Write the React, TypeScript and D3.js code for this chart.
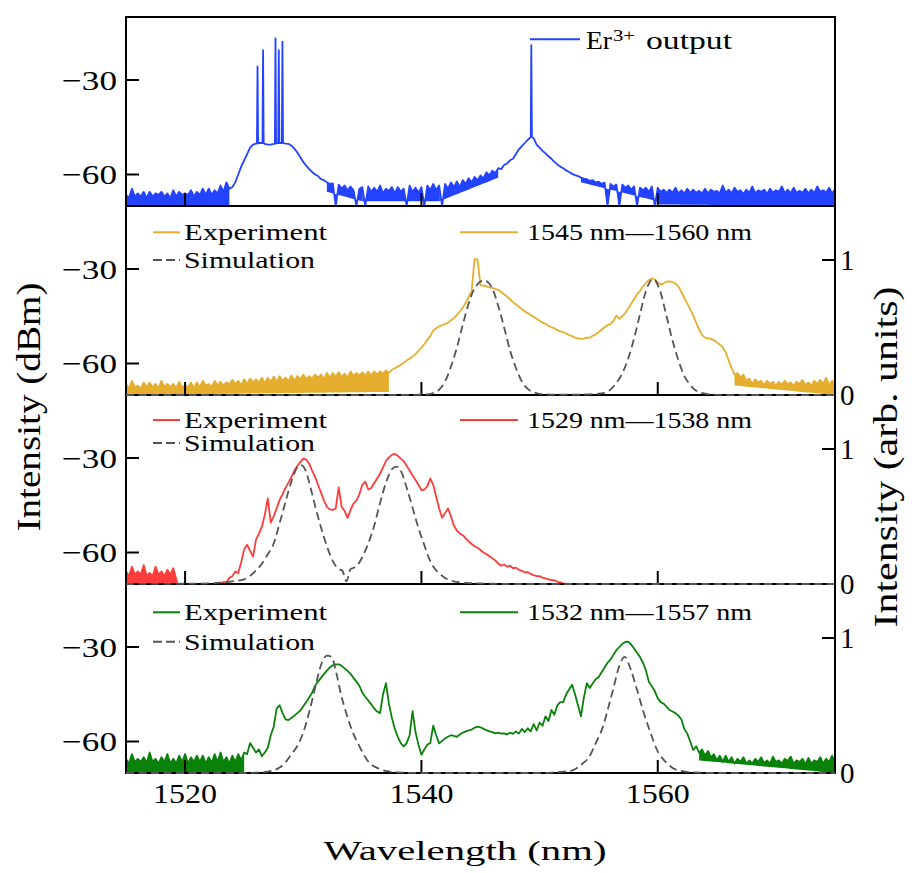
import React from 'react';
import * as d3 from 'd3';

// ---------------- data ----------------
const WL_START = 1515;
const WL_STEP = 0.25;
const X_DOMAIN: [number, number] = [1515, 1575];
const DBM_DOMAIN: [number, number] = [-70, -10];
const ARB_DOMAIN: [number, number] = [0, 1.4];
const xTicks = [1520, 1540, 1560];
const dbmTicks = [-30, -60];
const arbTicks = [0, 1];

// Er3+ output spectrum (dBm, upper trace), 0.25 nm grid from 1515 nm
const erOutput = [
  -66.5, -67.5, -64.5, -67.0, -66.0, -67.0, -65.5, -67.5, -65.5, -67.0, -66.0, -66.5,
  -65.5, -67.0, -66.0, -67.5, -65.0, -67.0, -65.5, -66.5, -66.0, -66.5, -65.0, -67.0,
  -65.5, -66.5, -64.5, -66.5, -64.5, -66.5, -65.0, -66.0, -63.5, -65.5, -62.5, -64.5,
  -64.0, -62.5, -60.0, -57.5, -55.5, -53.5, -51.5, -50.5, -50.2, -50.0, -50.0, -50.3,
  -50.5, -50.5, -50.3, -50.0, -50.0, -50.0, -50.2, -50.3, -50.8, -51.8, -53.0, -54.5,
  -56.0, -57.2, -58.3, -59.2, -60.0, -60.5, -61.5, -61.8, -62.5, -63.0, -62.8, -70.0,
  -63.2, -64.5, -63.5, -65.0, -63.8, -65.0, -70.0, -64.5, -64.0, -70.0, -63.8, -65.5,
  -64.2, -65.5, -63.5, -66.0, -64.5, -65.2, -64.0, -66.0, -64.0, -65.5, -64.5, -70.0,
  -63.5, -65.5, -64.2, -65.8, -64.0, -70.0, -63.5, -65.0, -63.0, -65.0, -63.5, -70.0,
  -63.0, -64.5, -62.5, -64.0, -62.2, -64.0, -61.8, -63.0, -61.2, -62.5, -60.8, -61.8,
  -60.3, -61.2, -59.3, -60.2, -58.8, -59.5, -58.0, -58.3, -57.0, -56.5, -55.5, -55.0,
  -53.5, -52.0, -51.0, -50.0, -49.0, -48.0, -48.5, -50.5, -51.5, -52.5, -53.3, -54.2,
  -55.0, -56.0, -56.8, -57.5, -58.0, -58.7, -59.2, -59.8, -60.2, -60.5, -61.0, -61.3,
  -61.5, -62.0, -61.8, -62.5, -62.3, -63.0, -62.6, -70.0, -63.0, -63.8, -63.2, -70.0,
  -63.2, -64.2, -63.5, -64.8, -63.8, -70.0, -64.2, -65.0, -64.2, -65.5, -63.8, -70.0,
  -64.2, -65.5, -64.8, -65.8, -64.8, -65.8, -64.2, -66.0, -65.0, -66.0, -64.5, -65.8,
  -64.8, -65.8, -65.2, -66.0, -64.5, -66.0, -64.8, -65.5, -65.2, -66.0, -63.5, -65.8,
  -64.8, -66.0, -64.2, -65.5, -65.0, -66.2, -64.8, -65.8, -63.8, -66.0, -65.0, -65.5,
  -64.8, -66.2, -64.5, -65.8, -65.0, -65.5, -63.8, -66.0, -64.8, -66.0, -64.2, -65.8,
  -65.2, -65.8, -64.5, -66.0, -64.8, -66.0, -63.8, -65.5, -65.0, -65.8, -64.2, -66.0,
  -64.8,
];
// noise floor bands under the trace: [from nm, to nm, lower edge at start, lower edge at end]
const erNoise = [[1515, 1523.75, -70, -70], [1532, 1535, -65.5, -68.5], [1535, 1541.5, -68.5, -68.5],
  [1541.5, 1546.5, -68.5, -61], [1553.5, 1560, -62.5, -68.5], [1560, 1575, -69.5, -70]];
// narrow lasing lines on top of the Er3+ spectrum
const erSpikeWl = [1526.13, 1526.6, 1527.65, 1527.93, 1528.24, 1549.3];
const erSpikeBase = [-50.1, -50.0, -50.2, -50.0, -50.0, -48.1];
const erSpikePeak = [-25.7, -20.5, -16.8, -20.5, -17.8, -18.9];

// experiment 1545 nm - 1560 nm (dBm)
const exp1545 = [
  -66.5, -68.0, -65.5, -67.5, -67.0, -68.0, -66.0, -67.5, -66.0, -67.5, -66.5, -67.8,
  -65.5, -67.5, -66.5, -67.5, -66.5, -67.8, -65.8, -67.5, -67.0, -67.5, -66.0, -67.8,
  -66.0, -67.5, -65.5, -67.0, -66.5, -67.5, -65.5, -67.0, -65.8, -67.0, -66.0, -66.5,
  -65.2, -66.5, -65.5, -66.8, -65.0, -66.5, -64.8, -66.0, -65.0, -66.0, -64.5, -66.2,
  -64.5, -65.8, -64.2, -65.8, -64.0, -65.5, -64.5, -65.5, -63.8, -65.5, -64.0, -65.0,
  -63.5, -65.0, -64.0, -64.8, -63.5, -64.5, -63.5, -65.0, -63.0, -64.5, -63.0, -64.2,
  -62.8, -64.2, -63.2, -64.5, -62.5, -64.0, -63.0, -63.8, -62.8, -63.8, -62.5, -64.0,
  -62.5, -63.5, -62.5, -63.2, -62.2, -63.0, -62.0, -61.5, -61.0, -60.5, -59.8, -59.0,
  -58.5, -57.8, -57.0, -56.0, -55.0, -53.8, -52.5, -51.3, -49.5, -48.8, -48.2, -47.8,
  -47.5, -47.0, -46.3, -45.6, -44.6, -43.5, -42.2, -40.8, -38.8, -37.0, -26.8, -27.0,
  -35.2, -35.3, -35.5, -35.8, -36.0, -36.3, -36.6, -37.3, -38.0, -38.8, -39.6, -40.5,
  -41.3, -42.0, -42.8, -43.5, -44.0, -44.6, -45.2, -45.8, -46.4, -47.0, -47.4, -48.0,
  -48.5, -48.8, -49.4, -49.8, -50.0, -50.5, -51.0, -51.3, -51.8, -52.0, -52.2, -52.1,
  -51.8, -51.8, -51.2, -50.8, -50.0, -49.3, -48.5, -47.8, -47.5, -46.5, -44.8, -45.8,
  -45.0, -44.0, -42.5, -41.0, -39.5, -38.0, -37.0, -35.5, -34.5, -33.5, -33.0, -33.2,
  -34.2, -35.0, -34.5, -34.0, -33.9, -34.2, -34.6, -35.5, -37.3, -39.2, -41.0, -42.8,
  -44.8, -47.0, -49.2, -51.0, -51.8, -52.0, -52.2, -52.6, -53.3, -54.0, -54.8, -56.5,
  -59.0, -61.5, -63.5, -63.0, -64.5, -63.5, -65.5, -64.8, -66.5, -65.0, -66.0, -65.5,
  -66.8, -65.5, -66.5, -65.8, -67.0, -65.8, -66.8, -65.5, -66.5, -66.0, -67.0, -65.8,
  -66.5, -65.2, -66.8, -66.0, -67.0, -65.5, -66.5, -65.2, -66.5, -64.5, -66.8, -65.5,
  -66.0,
];
const exp1545Noise = [[1515, 1537.25, -70, -69], [1566.5, 1575, -67, -70]];

// experiment 1529 nm - 1538 nm (dBm); values below -70 are off the axis
const exp1529 = [
  -66.0, -67.5, -64.5, -67.0, -66.0, -67.0, -64.0, -67.5, -66.5, -67.5, -64.5, -67.0,
  -66.0, -67.5, -65.5, -67.0, -65.0, -68.5, -72.0, -72.0, -72.0, -72.0, -72.0, -72.0,
  -72.0, -72.0, -72.0, -72.0, -72.0, -72.0, -71.0, -70.5, -70.2, -69.3, -69.5, -68.0,
  -67.5, -66.0, -66.5, -63.0, -59.0, -57.5, -59.5, -61.3, -56.0, -54.0, -51.8, -48.0,
  -42.8, -50.5, -48.5, -46.0, -43.3, -41.5, -39.5, -37.8, -36.0, -34.0, -32.5, -31.3,
  -30.2, -30.5, -31.8, -34.0, -36.0, -38.5, -41.0, -43.5, -45.5, -46.3, -46.5, -46.0,
  -39.3, -45.5, -46.8, -49.0, -46.5, -44.5, -43.5, -41.5, -38.5, -37.5, -40.0, -39.5,
  -38.0, -36.5, -35.0, -33.0, -31.0, -29.8, -29.0, -28.7, -29.3, -30.2, -31.0, -32.5,
  -34.0, -35.5, -37.0, -38.5, -40.2, -40.0, -39.0, -36.5, -38.5, -42.3, -46.0, -49.0,
  -47.5, -46.0, -48.5, -51.5, -53.0, -54.0, -54.5, -55.5, -56.5, -57.3, -58.0, -58.5,
  -59.2, -60.0, -60.5, -61.2, -61.8, -62.5, -63.5, -64.2, -63.8, -64.5, -64.2, -65.0,
  -64.8, -65.5, -65.8, -66.3, -66.2, -66.8, -67.2, -67.5, -67.5, -68.0, -68.2, -68.5,
  -68.8, -68.8, -69.3, -69.5, -69.8, -70.0, -72.0, -72.0, -72.0, -72.0, -72.0, -72.0,
  -72.0, -72.0, -72.0, -72.0, -72.0, -72.0, -72.0, -72.0, -72.0, -72.0, -72.0, -72.0,
  -72.0, -72.0, -72.0, -72.0, -72.0, -72.0, -72.0, -72.0, -72.0, -72.0, -72.0, -72.0,
  -72.0, -72.0, -72.0, -72.0, -72.0, -72.0, -72.0, -72.0, -72.0, -72.0, -72.0, -72.0,
  -72.0, -72.0, -72.0, -72.0, -72.0, -72.0, -72.0, -72.0, -72.0, -72.0, -72.0, -72.0,
  -72.0, -72.0, -72.0, -72.0, -72.0, -72.0, -72.0, -72.0, -72.0, -72.0, -72.0, -72.0,
  -72.0, -72.0, -72.0, -72.0, -72.0, -72.0, -72.0, -72.0, -72.0, -72.0, -72.0, -72.0,
  -72.0, -72.0, -72.0, -72.0, -72.0, -72.0, -72.0, -72.0, -72.0, -72.0, -72.0, -72.0,
  -72.0,
];
const exp1529Noise = [[1515, 1519.25, -70, -70]];

// experiment 1532 nm - 1557 nm (dBm)
const exp1532 = [
  -65.5, -67.0, -64.0, -66.5, -65.5, -66.5, -65.0, -66.8, -63.5, -66.5, -65.5, -67.0,
  -65.0, -66.5, -64.0, -67.0, -65.5, -67.0, -64.5, -66.5, -64.0, -67.0, -65.0, -66.5,
  -64.5, -66.5, -64.5, -67.0, -65.0, -66.8, -64.0, -66.5, -63.5, -66.5, -65.0, -67.0,
  -64.5, -66.5, -64.0, -66.0, -63.5, -64.0, -60.5, -62.0, -63.5, -62.5, -64.7, -63.5,
  -62.0, -58.0, -55.3, -49.5, -48.5, -51.0, -53.0, -53.2, -52.5, -51.8, -51.0, -50.2,
  -48.8, -47.5, -46.0, -44.5, -42.3, -41.0, -39.8, -38.6, -37.5, -36.5, -35.8, -35.5,
  -35.5, -36.0, -36.8, -37.6, -38.5, -39.8, -41.0, -42.3, -44.5, -45.8, -47.0, -48.2,
  -49.5, -50.5, -51.0, -45.0, -41.5, -48.0, -52.5, -56.0, -58.5, -60.5, -61.6, -60.5,
  -58.0, -50.4, -57.0, -61.0, -64.2, -62.5, -61.0, -60.5, -55.0, -58.0, -60.6, -59.8,
  -59.0, -58.5, -58.0, -58.2, -58.5, -57.8, -57.2, -56.8, -56.5, -56.2, -55.6, -55.3,
  -55.5, -56.0, -56.4, -56.8, -57.0, -57.4, -57.2, -57.5, -57.4, -57.8, -57.2, -57.6,
  -56.8, -57.5, -56.0, -57.0, -55.8, -56.8, -54.5, -56.5, -54.0, -55.0, -52.0, -53.5,
  -50.0, -51.5, -48.5, -47.5, -47.5, -45.0, -43.5, -42.0, -45.0, -48.5, -52.0, -46.0,
  -41.5, -43.0, -41.5, -40.2, -39.5, -38.0, -36.5, -35.0, -34.0, -32.5, -31.0, -30.0,
  -29.0, -28.4, -28.3, -29.2, -30.5, -31.8, -33.2, -35.0, -37.5, -41.0, -42.5, -44.0,
  -46.3, -47.5, -48.0, -49.0, -50.0, -50.5, -51.0, -51.8, -53.0, -56.0, -57.5, -60.0,
  -62.7, -61.5, -63.5, -62.5, -64.5, -63.0, -65.0, -64.0, -66.0, -64.5, -66.5, -64.5,
  -66.5, -65.0, -67.0, -65.5, -66.5, -65.0, -67.0, -66.0, -67.0, -65.5, -66.5, -65.0,
  -66.8, -66.0, -67.0, -64.8, -66.5, -66.0, -67.0, -65.5, -66.2, -64.8, -67.0, -66.0,
  -66.5, -65.5, -67.2, -65.2, -67.0, -66.0, -66.5, -65.0, -67.0, -65.5, -66.5, -64.5,
  -66.5,
];
const exp1532Noise = [[1515, 1525, -70, -70], [1563.5, 1575, -66, -70]];

// simulations (arb. units)
const sim1545Wl = [1515, 1538, 1540, 1540.5, 1541, 1541.5, 1542, 1542.5, 1543, 1543.5,
  1544, 1544.5, 1545.3, 1546, 1546.5, 1547, 1547.5, 1548, 1548.5, 1549,
  1549.5, 1550, 1551, 1553, 1554.5, 1555.5, 1556, 1556.5, 1557, 1557.5,
  1558, 1558.5, 1559, 1559.6, 1560.2, 1560.7, 1561.2, 1561.7, 1562.2, 1562.7,
  1563.2, 1563.7, 1564.5, 1566, 1575];
const sim1545 = [0, 0, 0.002, 0.005, 0.015, 0.04, 0.1, 0.21, 0.35, 0.52,
  0.68, 0.79, 0.85, 0.79, 0.66, 0.5, 0.33, 0.2, 0.1, 0.045,
  0.02, 0.008, 0.003, 0.003, 0.006, 0.015, 0.04, 0.09, 0.16, 0.27,
  0.42, 0.6, 0.77, 0.86, 0.77, 0.6, 0.42, 0.27, 0.15, 0.08,
  0.035, 0.015, 0.004, 0, 0];

const sim1529Wl = [1515, 1520, 1522, 1523, 1524, 1525, 1525.5, 1526, 1526.5, 1527,
  1527.5, 1528, 1528.5, 1529, 1529.4, 1529.8, 1530.2, 1530.6, 1531, 1531.5,
  1532, 1532.5, 1533, 1533.3, 1533.65, 1534, 1534.5, 1535, 1535.5, 1536,
  1536.5, 1537, 1537.5, 1537.9, 1538.3, 1538.8, 1539.3, 1539.8, 1540.2, 1540.6,
  1541, 1541.5, 1542, 1542.5, 1543, 1544, 1546, 1548, 1575];
const sim1529 = [0, 0.002, 0.005, 0.01, 0.02, 0.035, 0.06, 0.1, 0.15, 0.22,
  0.3, 0.45, 0.61, 0.76, 0.85, 0.88, 0.84, 0.72, 0.58, 0.42,
  0.28, 0.17, 0.11, 0.1, 0.02, 0.11, 0.13, 0.2, 0.3, 0.43,
  0.6, 0.75, 0.85, 0.87, 0.83, 0.7, 0.55, 0.4, 0.3, 0.2,
  0.13, 0.08, 0.045, 0.025, 0.015, 0.007, 0.002, 0, 0];

const sim1532Wl = [1515, 1525, 1526, 1527, 1527.5, 1528, 1528.5, 1529, 1529.5, 1530,
  1530.5, 1531, 1531.5, 1532, 1532.4, 1532.8, 1533.2, 1533.65, 1534.2, 1534.8,
  1535.3, 1535.8, 1536.2, 1537, 1538, 1540, 1550, 1551, 1552, 1552.8,
  1553.5, 1554.2, 1554.8, 1555.35, 1555.8, 1556.2, 1556.7, 1557.2, 1557.7, 1558.2,
  1558.8, 1559.3, 1560, 1560.7, 1561.3, 1562, 1563, 1565, 1575];
const sim1532 = [0, 0, 0.003, 0.01, 0.02, 0.04, 0.08, 0.14, 0.2, 0.3,
  0.45, 0.63, 0.8, 0.87, 0.86, 0.74, 0.58, 0.44, 0.3, 0.19,
  0.11, 0.06, 0.04, 0.015, 0.005, 0, 0, 0.003, 0.01, 0.02,
  0.06, 0.12, 0.23, 0.34, 0.48, 0.61, 0.78, 0.86, 0.77, 0.63,
  0.45, 0.32, 0.16, 0.08, 0.035, 0.015, 0.004, 0, 0];

const rangeLabels = ['1545 nm\u20141560 nm', '1529 nm\u20141538 nm', '1532 nm\u20141557 nm'];
const seriesColors = ['#e5ae2f', '#ff3c3c', '#0a820a'];
const ER_COLOR = '#2343ff';
const SIM_COLOR = '#555555';

// ---------------- layout ----------------
const W = 915;
const H = 873;
const PL = 126;
const PR = 835;
const PANEL_TOP = [17, 206, 395, 584];
const PANEL_H = 189;
const FONT = "'Liberation Serif', 'Times New Roman', serif";
const LEG_EXP_Y = [232.3, 420, 612.3];
const LEG_SIM_Y = [260, 443, 641.7];

type Pt = [number, number];

const onGrid = (vals: number[]): Pt[] => vals.map((v, i) => [WL_START + i * WL_STEP, v]);
const zipPts = (xs: number[], ys: number[]): Pt[] => xs.map((x, i) => [x, ys[i]]);

function erPoints(): Pt[] {
  const hw = 0.05;
  const grid = onGrid(erOutput).filter(
    (p) => !erSpikeWl.some((w) => Math.abs(p[0] - w) <= hw + 1e-9)
  );
  const extra: Pt[] = [];
  erSpikeWl.forEach((w, i) => {
    extra.push([w - hw, erSpikeBase[i]], [w, erSpikePeak[i]], [w + hw, erSpikeBase[i]]);
  });
  return grid.concat(extra).sort((a, b) => a[0] - b[0]);
}

export default function App() {
  const x = d3.scaleLinear().domain(X_DOMAIN).range([PL, PR]);
  const yDbm = (top: number) => d3.scaleLinear().domain(DBM_DOMAIN).range([top + PANEL_H, top]);
  const yArb = (top: number) => d3.scaleLinear().domain(ARB_DOMAIN).range([top + PANEL_H, top]);

  const expSeries = [exp1545, exp1529, exp1532];
  const noiseSets = [erNoise, exp1545Noise, exp1529Noise, exp1532Noise];
  const traces = [erOutput, exp1545, exp1529, exp1532];
  const colors = [ER_COLOR, ...seriesColors];
  const simSeries = [zipPts(sim1545Wl, sim1545), zipPts(sim1529Wl, sim1529), zipPts(sim1532Wl, sim1532)];

  const bandPaths = (pi: number) => {
    const top = PANEL_TOP[pi];
    const y = yDbm(top);
    const pts = onGrid(traces[pi]);
    return noiseSets[pi].map((b, k) => {
      const [a, e, l0, l1] = b;
      const seg = pts.filter((p) => p[0] >= a - 1e-9 && p[0] <= e + 1e-9);
      const area = d3.area<Pt>()
        .x((d) => x(d[0]))
        .y0((d) => y(l0 + ((l1 - l0) * (d[0] - a)) / (e - a)))
        .y1((d) => y(d[1]));
      return (
        <path key={'b' + pi + '-' + k} d={area(seg) || ''} fill={colors[pi]} stroke="none"
          clipPath={`url(#clip${pi})`} />
      );
    });
  };

  const panelFrame = (top: number, i: number, showRight: boolean) => {
    const yl = yDbm(top);
    const yr = yArb(top);
    const bottom = top + PANEL_H;
    return (
      <g key={'frame' + i}>
        <rect x={PL} y={top} width={PR - PL} height={PANEL_H} fill="none" stroke="#000" strokeWidth={2} />
        {dbmTicks.map((t) => (
          <g key={'l' + t}>
            <line x1={PL} x2={PL + 13} y1={yl(t)} y2={yl(t)} stroke="#000" strokeWidth={2} />
            <text x={117} y={yl(t) + 9.5} textAnchor="end" fontSize={28} fontFamily={FONT}
              textLength={55} lengthAdjust="spacingAndGlyphs">{'\u2212' + Math.abs(t)}</text>
          </g>
        ))}
        {xTicks.map((t) => (
          <line key={'x' + t} x1={x(t)} x2={x(t)} y1={bottom} y2={bottom - 13} stroke="#000" strokeWidth={2} />
        ))}
        {showRight && arbTicks.map((t) => (
          <g key={'r' + t}>
            <line x1={PR} x2={PR - 13} y1={yr(t)} y2={yr(t)} stroke="#000" strokeWidth={2} />
            <text x={840} y={yr(t) + 10} textAnchor="start" fontSize={29} fontFamily={FONT}>{String(t)}</text>
          </g>
        ))}
      </g>
    );
  };

  const lineDbm = (top: number) =>
    d3.line<Pt>().x((d) => x(d[0])).y((d) => yDbm(top)(d[1]));
  const lineArb = (top: number) =>
    d3.line<Pt>().x((d) => x(d[0])).y((d) => yArb(top)(d[1])).curve(d3.curveMonotoneX);

  return (
    <svg width={W} height={H} viewBox={`0 0 ${W} ${H}`}
      style={{ position: 'absolute', left: 0, top: 0, background: '#fff' }}>
      <defs>
        {PANEL_TOP.map((top, i) => (
          <clipPath id={'clip' + i} key={'c' + i}>
            <rect x={PL} y={top} width={PR - PL} height={PANEL_H} />
          </clipPath>
        ))}
        {PANEL_TOP.map((top, i) => (
          <clipPath id={'clipS' + i} key={'cs' + i}>
            <rect x={PL} y={top} width={PR - PL} height={PANEL_H + 1.5} />
          </clipPath>
        ))}
      </defs>
      <rect x={0} y={0} width={W} height={H} fill="#fff" />

      {/* noise-floor bands */}
      {[0, 1, 2, 3].map((pi) => bandPaths(pi))}

      {/* experiment lines */}
      <path d={lineDbm(PANEL_TOP[0])(erPoints()) || ''} fill="none" stroke={ER_COLOR}
        strokeWidth={1.8} strokeLinejoin="round" clipPath="url(#clip0)" />
      {expSeries.map((s, i) => (
        <path key={'e' + i} d={lineDbm(PANEL_TOP[i + 1])(onGrid(s)) || ''} fill="none"
          stroke={seriesColors[i]} strokeWidth={1.8} strokeLinejoin="round"
          clipPath={`url(#clip${i + 1})`} />
      ))}

      {/* frames and ticks */}
      {PANEL_TOP.map((top, i) => panelFrame(top, i, i > 0))}

      {/* simulations */}
      {simSeries.map((s, i) => (
        <path key={'s' + i} d={lineArb(PANEL_TOP[i + 1])(s) || ''} fill="none"
          stroke={SIM_COLOR} strokeWidth={1.8} strokeDasharray="8,4.5"
          clipPath={`url(#clipS${i + 1})`} />
      ))}

      {/* x tick labels */}
      {xTicks.map((t) => (
        <text key={'xl' + t} x={x(t)} y={803} textAnchor="middle" fontSize={27} fontFamily={FONT}
          textLength={64} lengthAdjust="spacingAndGlyphs">{String(t)}</text>
      ))}

      {/* legends */}
      <line x1={530} x2={580} y1={39.3} y2={39.3} stroke={ER_COLOR} strokeWidth={2} />
      <text x={586} y={49} fontSize={26} fontFamily={FONT} textLength={26} lengthAdjust="spacingAndGlyphs">Er</text>
      <text x={613} y={41} fontSize={17} fontFamily={FONT} textLength={22} lengthAdjust="spacingAndGlyphs">3+</text>
      <text x={646} y={49} fontSize={26} fontFamily={FONT} textLength={86} lengthAdjust="spacingAndGlyphs">output</text>

      {[0, 1, 2].map((i) => (
        <g key={'leg' + i}>
          <line x1={153} x2={180} y1={LEG_EXP_Y[i]} y2={LEG_EXP_Y[i]} stroke={seriesColors[i]} strokeWidth={2} />
          <text x={184} y={LEG_EXP_Y[i] + 7.7} fontSize={23} fontFamily={FONT}
            textLength={143} lengthAdjust="spacingAndGlyphs">Experiment</text>
          <line x1={153} x2={180} y1={LEG_SIM_Y[i]} y2={LEG_SIM_Y[i]} stroke={SIM_COLOR} strokeWidth={2}
            strokeDasharray="9,4" />
          <text x={184} y={LEG_SIM_Y[i] + 8} fontSize={23} fontFamily={FONT}
            textLength={131} lengthAdjust="spacingAndGlyphs">Simulation</text>
          <line x1={460} x2={518} y1={LEG_EXP_Y[i]} y2={LEG_EXP_Y[i]} stroke={seriesColors[i]} strokeWidth={2} />
          <text x={527} y={LEG_EXP_Y[i] + 7.7} fontSize={23} fontFamily={FONT}
            textLength={225} lengthAdjust="spacingAndGlyphs">{rangeLabels[i]}</text>
        </g>
      ))}

      {/* axis titles */}
      <text x={465} y={860} textAnchor="middle" fontSize={27} fontFamily={FONT}
        textLength={283} lengthAdjust="spacingAndGlyphs">Wavelength (nm)</text>
      <text transform="translate(40,407) rotate(-90)" textAnchor="middle" fontSize={33} fontFamily={FONT}
        textLength={249} lengthAdjust="spacingAndGlyphs">Intensity (dBm)</text>
      <text transform="translate(897,457) rotate(-90)" textAnchor="middle" fontSize={33} fontFamily={FONT}
        textLength={341} lengthAdjust="spacingAndGlyphs">Intensity (arb. units)</text>
    </svg>
  );
}
